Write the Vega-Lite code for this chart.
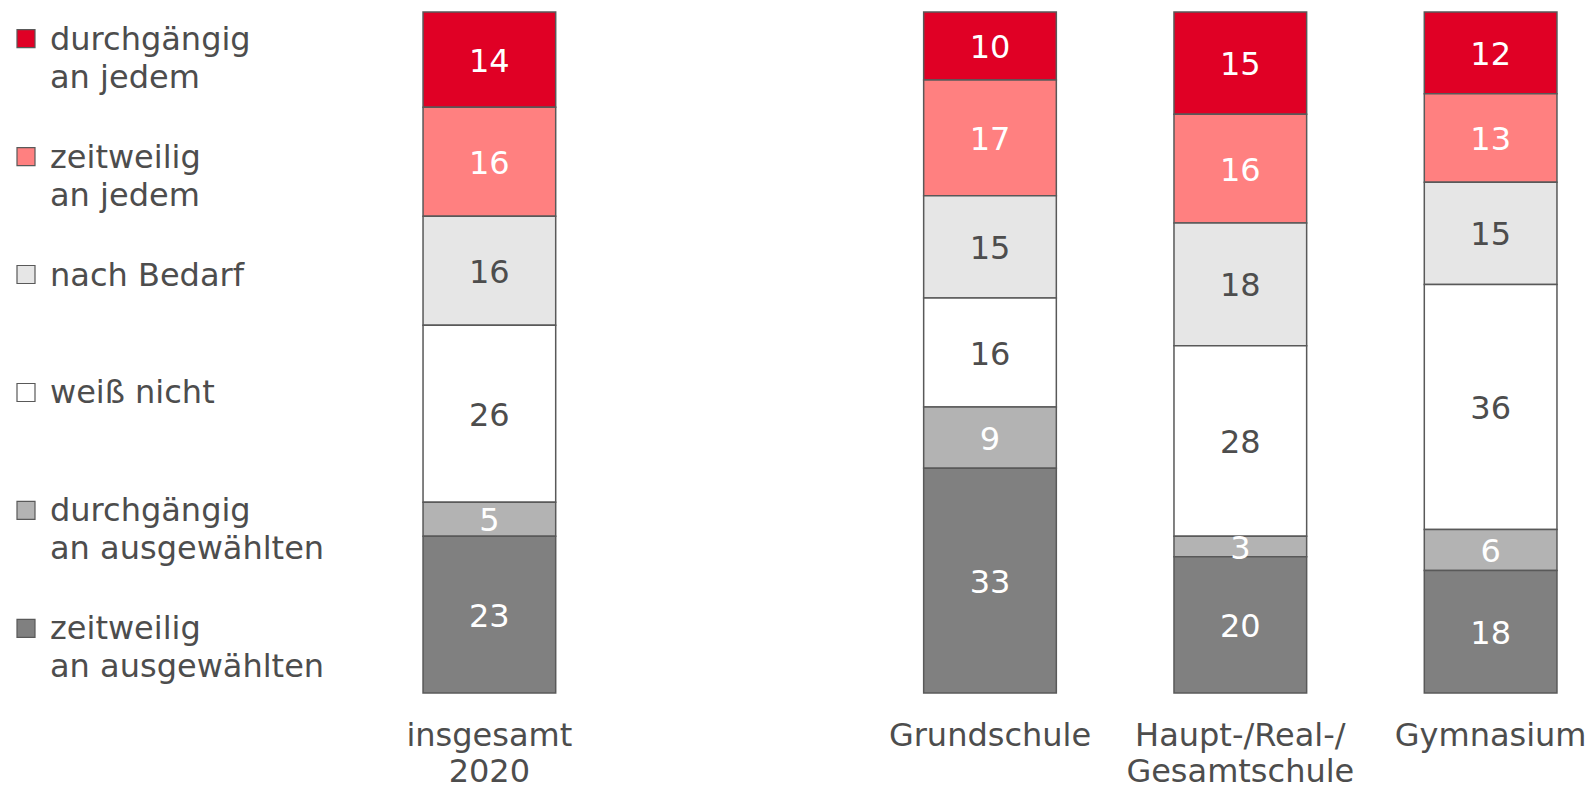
{
  "$schema": "https://vega.github.io/schema/vega-lite/v6.json",
  "padding": {"left": 0, "top": 11, "right": 0, "bottom": 0},
  "background": "white",
  "config": {"view": {"stroke": null}, "font": "DejaVu Sans", "concat": {"spacing": 346}},
  "bounds": "flush",
  "datasets": {
    "bars": [
      {"school": "insgesamt|2020", "cat": "durchgängig an jedem", "v": 14},
      {"school": "insgesamt|2020", "cat": "zeitweilig an jedem", "v": 16},
      {"school": "insgesamt|2020", "cat": "nach Bedarf", "v": 16},
      {"school": "insgesamt|2020", "cat": "weiß nicht", "v": 26},
      {"school": "insgesamt|2020", "cat": "durchgängig an ausgewählten", "v": 5},
      {"school": "insgesamt|2020", "cat": "zeitweilig an ausgewählten", "v": 23},
      {"school": "Grundschule", "cat": "durchgängig an jedem", "v": 10},
      {"school": "Grundschule", "cat": "zeitweilig an jedem", "v": 17},
      {"school": "Grundschule", "cat": "nach Bedarf", "v": 15},
      {"school": "Grundschule", "cat": "weiß nicht", "v": 16},
      {"school": "Grundschule", "cat": "durchgängig an ausgewählten", "v": 9},
      {"school": "Grundschule", "cat": "zeitweilig an ausgewählten", "v": 33},
      {"school": "Haupt-/Real-/|Gesamtschule", "cat": "durchgängig an jedem", "v": 15},
      {"school": "Haupt-/Real-/|Gesamtschule", "cat": "zeitweilig an jedem", "v": 16},
      {"school": "Haupt-/Real-/|Gesamtschule", "cat": "nach Bedarf", "v": 18},
      {"school": "Haupt-/Real-/|Gesamtschule", "cat": "weiß nicht", "v": 28},
      {"school": "Haupt-/Real-/|Gesamtschule", "cat": "durchgängig an ausgewählten", "v": 3},
      {"school": "Haupt-/Real-/|Gesamtschule", "cat": "zeitweilig an ausgewählten", "v": 20},
      {"school": "Gymnasium", "cat": "durchgängig an jedem", "v": 12},
      {"school": "Gymnasium", "cat": "zeitweilig an jedem", "v": 13},
      {"school": "Gymnasium", "cat": "nach Bedarf", "v": 15},
      {"school": "Gymnasium", "cat": "weiß nicht", "v": 36},
      {"school": "Gymnasium", "cat": "durchgängig an ausgewählten", "v": 6},
      {"school": "Gymnasium", "cat": "zeitweilig an ausgewählten", "v": 18}
    ],
    "legend": [
      {"cat": "durchgängig an jedem", "label": "durchgängig\nan jedem"},
      {"cat": "zeitweilig an jedem", "label": "zeitweilig\nan jedem"},
      {"cat": "nach Bedarf", "label": "nach Bedarf"},
      {"cat": "weiß nicht", "label": "weiß nicht"},
      {"cat": "durchgängig an ausgewählten", "label": "durchgängig\nan ausgewählten"},
      {"cat": "zeitweilig an ausgewählten", "label": "zeitweilig\nan ausgewählten"}
    ]
  },
  "hconcat": [
    {
      "width": 52,
      "height": 643,
      "data": {"name": "legend"},
      "layer": [
        {
          "mark": {"type": "square", "size": 324, "filled": true, "stroke": "#595959", "strokeWidth": 1.2, "opacity": 1},
          "encoding": {
            "y": {"field": "cat", "type": "nominal", "scale": {"type": "point", "padding": 0.225, "domain": ["durchgängig an jedem", "zeitweilig an jedem", "nach Bedarf", "weiß nicht", "durchgängig an ausgewählten", "zeitweilig an ausgewählten"]}, "axis": null},
            "fill": {"field": "cat", "type": "nominal", "legend": null,
              "scale": {"domain": ["durchgängig an jedem", "zeitweilig an jedem", "nach Bedarf", "weiß nicht", "durchgängig an ausgewählten", "zeitweilig an ausgewählten"],
                        "range": ["#E00025", "#FF8080", "#E6E6E6", "#FFFFFF", "#B3B3B3", "#808080"]}}
          }
        },
        {
          "mark": {"type": "text", "align": "left", "baseline": "alphabetic", "dx": 24, "dy": 11, "fontSize": 32, "lineBreak": "\n", "lineHeight": 38, "color": "#4D4D4D", "font": "DejaVu Sans"},
          "encoding": {
            "y": {"field": "cat", "type": "nominal", "scale": {"type": "point", "padding": 0.225, "domain": ["durchgängig an jedem", "zeitweilig an jedem", "nach Bedarf", "weiß nicht", "durchgängig an ausgewählten", "zeitweilig an ausgewählten"]}, "axis": null},
            "text": {"field": "label"}
          }
        }
      ]
    },
    {
      "width": 1184,
      "height": 681,
      "data": {"name": "bars"},
      "transform": [
        {"calculate": "indexof(['zeitweilig an ausgewählten','durchgängig an ausgewählten','weiß nicht','nach Bedarf','zeitweilig an jedem','durchgängig an jedem'], datum.cat)", "as": "ord"},
        {"stack": "v", "groupby": ["school"], "sort": [{"field": "ord", "order": "ascending"}], "as": ["v0", "v1"]},
        {"calculate": "(datum.v0 + datum.v1) / 2", "as": "mid"}
      ],
      "encoding": {
        "x": {"field": "school", "type": "nominal",
          "scale": {"domain": ["insgesamt|2020", "leer", "Grundschule", "Haupt-/Real-/|Gesamtschule", "Gymnasium"], "paddingInner": 0.47, "paddingOuter": 0.1},
          "axis": {"title": null, "labelAngle": 0, "ticks": false, "tickSize": 0, "domain": false, "labelPadding": 27, "labelFontSize": 32, "labelFont": "DejaVu Sans", "labelColor": "#4D4D4D", "labelLineHeight": 36, "labelLimit": 0, "labelOverlap": false, "labelExpr": "datum.label == 'leer' ? '' : split(datum.label, '|')"}}
      },
      "layer": [
        {
          "mark": {"type": "bar", "stroke": "#595959", "strokeWidth": 1.5},
          "encoding": {
            "y": {"field": "v0", "type": "quantitative", "scale": {"domain": [0, 100], "nice": false, "zero": true}, "axis": null},
            "y2": {"field": "v1"},
            "fill": {"field": "cat", "type": "nominal", "legend": null,
              "scale": {"domain": ["durchgängig an jedem", "zeitweilig an jedem", "nach Bedarf", "weiß nicht", "durchgängig an ausgewählten", "zeitweilig an ausgewählten"],
                        "range": ["#E00025", "#FF8080", "#E6E6E6", "#FFFFFF", "#B3B3B3", "#808080"]}}
          }
        },
        {
          "mark": {"type": "text", "fontSize": 32, "font": "DejaVu Sans", "baseline": "middle", "align": "center", "dy": 2},
          "encoding": {
            "y": {"field": "mid", "type": "quantitative"},
            "text": {"field": "v", "type": "quantitative"},
            "color": {"condition": {"test": "datum.cat == 'nach Bedarf' || datum.cat == 'weiß nicht'", "value": "#4D4D4D"}, "value": "#FFFFFF"}
          }
        }
      ]
    }
  ]
}
